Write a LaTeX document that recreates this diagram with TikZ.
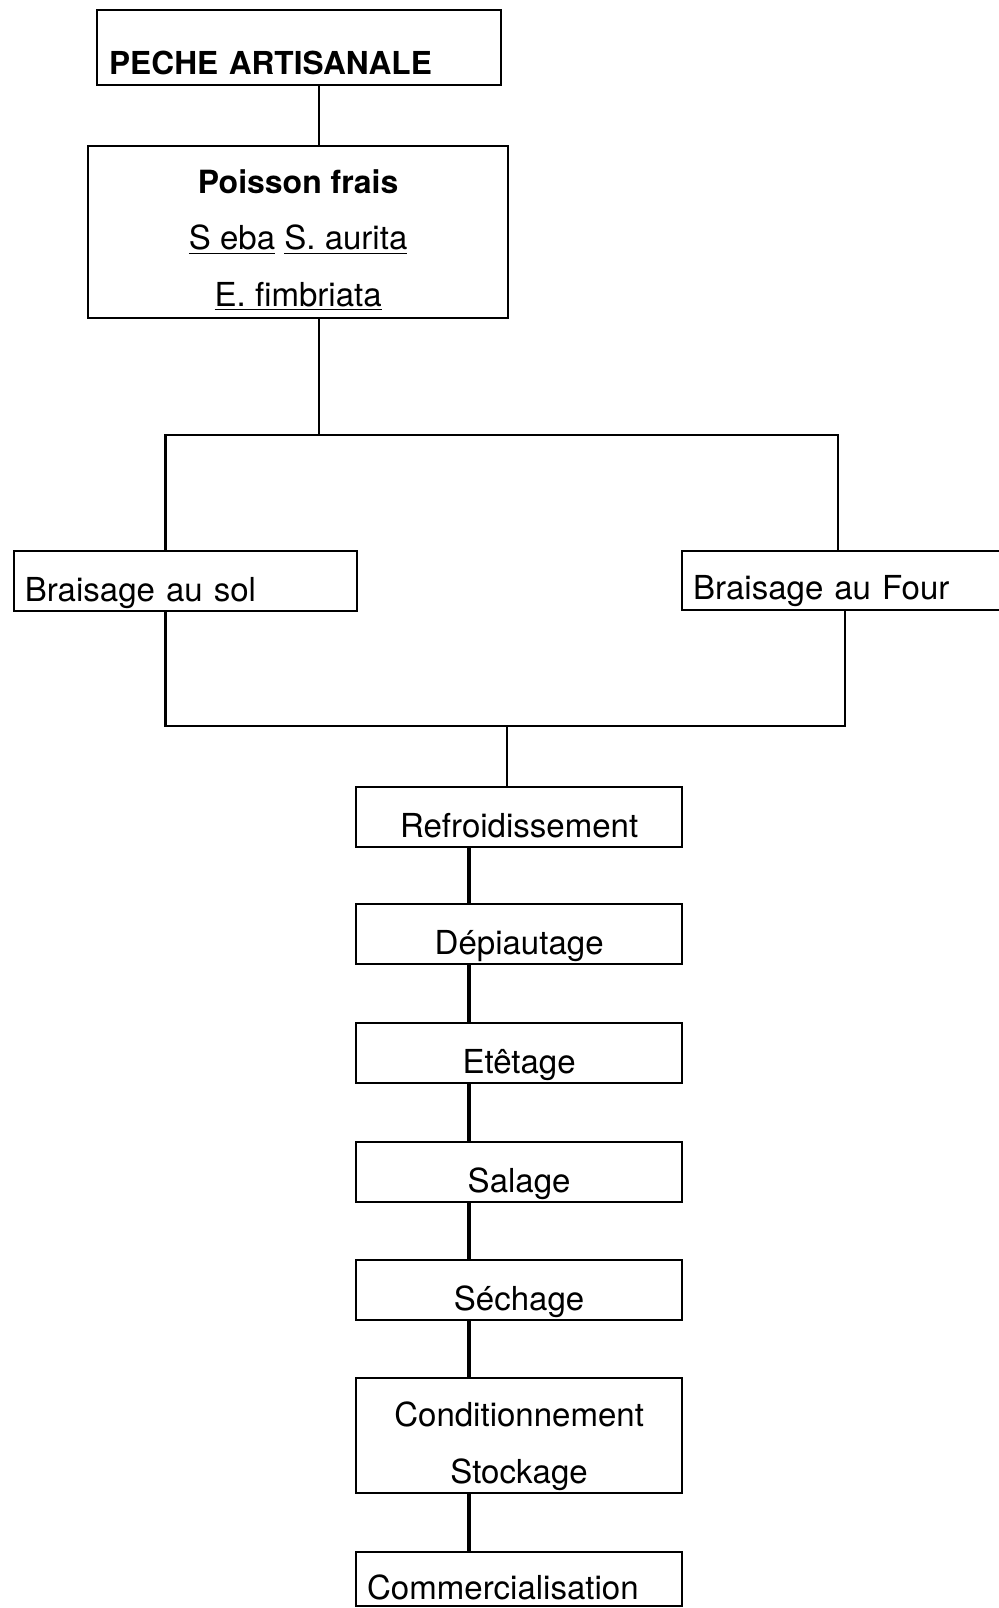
\documentclass[tikz,border=0pt]{standalone}
\usepackage{fontspec}
\setmainfont{TeX Gyre Heros}

\begin{document}
\begin{tikzpicture}[x=0.2mm,y=-0.2mm,line width=1.3pt,
  boite/.style={draw,anchor=north west,inner ysep=0pt,font=\fontsize{18.8}{32}\selectfont},
  etape/.style={boite,inner xsep=0pt,minimum width=65.2mm,text height=10mm,text depth=2mm},
  gauche/.style={boite,align=left,inner xsep=2.2mm},
  lien/.style={line width=1.8pt}]
\useasboundingbox (0,0) rectangle (999,1608);
\clip (0,0) rectangle (999,1608);
\node[gauche,inner xsep=2.4mm,text width=76mm,text height=12.9mm,text depth=2.1mm,font=\fontsize{18}{22}\selectfont\bfseries] (peche) at (96,9) {PECHE ARTISANALE};
\node[boite,align=center,inner xsep=0pt,minimum width=84mm,text height=32mm,text depth=2.4mm] (poisson) at (87,145) {{\fontsize{18.2}{32}\selectfont\bfseries Poisson frais}\\ \underline{S eba} \underline{S. aurita}\\ \underline{E. fimbriata}};
% les deux braisages
\node[gauche,text width=64.2mm,text height=10mm,text depth=2mm] (sol) at (12.7,550) {Braisage au sol};
\node[gauche,text width=63.6mm,text height=9.6mm,text depth=2.2mm] (four) at (681,550) {Braisage au Four};
% chaine de transformation
\node[etape] (refroid) at (355,786) {Refroidissement};
\node[etape] (depiau) at (355,903) {D\'epiautage};
\node[etape] (etetage) at (355,1022) {Et\^etage};
\node[etape] (salage) at (355,1141) {Salage};
\node[etape] (sechage) at (355,1259) {S\'echage};
\node[etape,align=center,text height=21mm,text depth=2mm] (cond) at (355,1377) {Conditionnement\\Stockage};
\node[gauche,text width=60.8mm,text height=9.4mm,text depth=1.4mm] (comm) at (355,1551) {Commercialisation};
% points des barres
\coordinate (hautM) at (319,435);
\coordinate (hautG) at (165.6,435);
\coordinate (hautD) at (838,435);
\coordinate (basG) at (165.6,726);
\coordinate (basD) at (845,726);
\coordinate (basM) at (507,726);
\coordinate (axe) at (469,0);
\draw (peche.south -| hautM) -- (poisson.north -| hautM);
\draw (poisson.south -| hautM) -- (hautM);
\draw (sol.north -| hautG) -- (hautG) -- (hautD) -- (four.north -| hautD);
\draw (sol.south -| basG) -- (basG) -- (basD) -- (four.south -| basD);
\draw (basM) -- (refroid.north -| basM);
\draw[lien] (refroid.south -| axe) -- (depiau.north -| axe);
\draw[lien] (depiau.south -| axe) -- (etetage.north -| axe);
\draw[lien] (etetage.south -| axe) -- (salage.north -| axe);
\draw[lien] (salage.south -| axe) -- (sechage.north -| axe);
\draw[lien] (sechage.south -| axe) -- (cond.north -| axe);
\draw[lien] (cond.south -| axe) -- (comm.north -| axe);
\end{tikzpicture}
\end{document}
